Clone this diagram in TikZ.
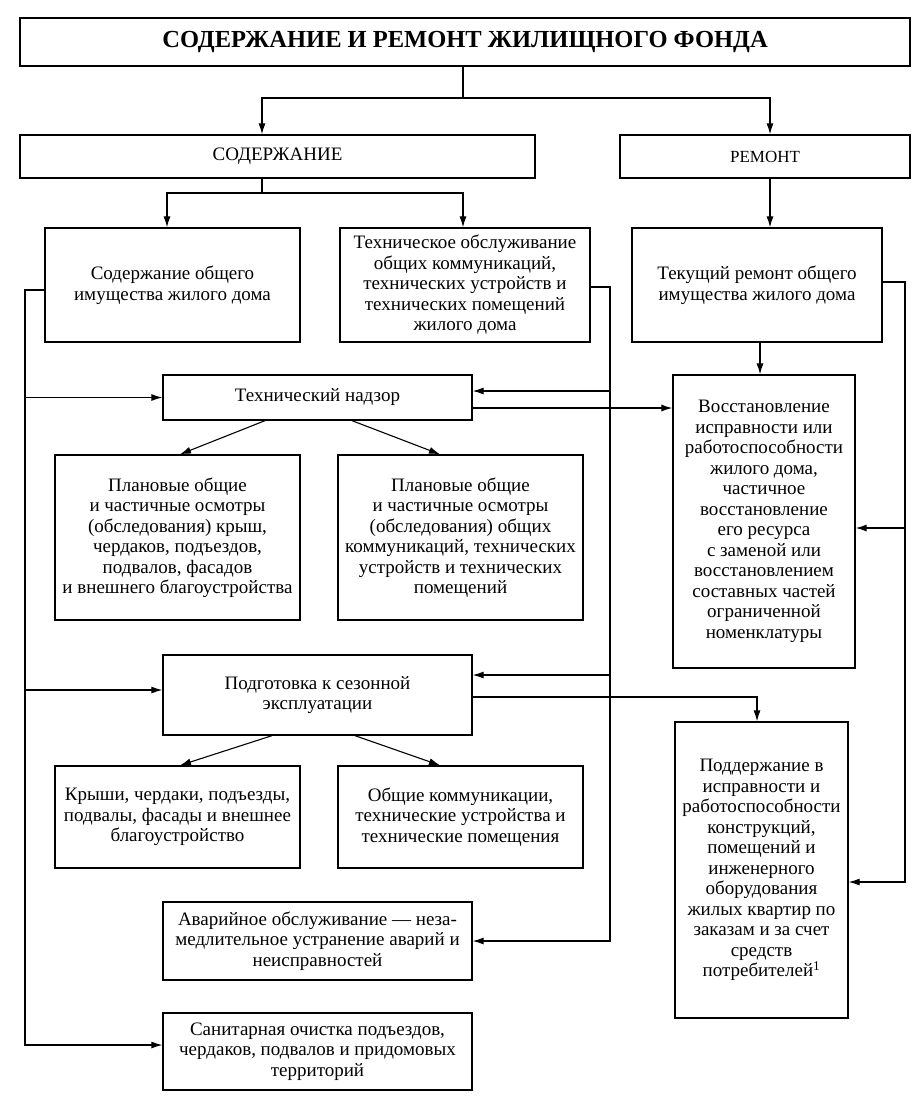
\documentclass[tikz,border=0pt]{standalone}
\usepackage{fontspec}
\setmainfont{Liberation Serif}
\usetikzlibrary{arrows.meta,calc}
\begin{document}
\begin{tikzpicture}[x=1pt,y=-1pt,
  box/.style={draw,line width=1.3pt,align=center,inner sep=0pt,font=\fontsize{19}{20.5}\selectfont},
  sz/.style 2 args={minimum width=#1pt,minimum height=#2pt},
  lnk/.style={line width=1.1pt},
  arr/.style={lnk,-{Latex[length=11pt,width=7pt]}}]
\useasboundingbox (0,0) rectangle (919,1101);

\node[box,sz={890}{48},font=\fontsize{24.5}{26}\selectfont\bfseries] (top) at (465,42) {СОДЕРЖАНИЕ И РЕМОНТ ЖИЛИЩНОГО ФОНДА};
\node[box,sz={515}{43}] (sod) at (277.5,156.5) {СОДЕРЖАНИЕ};
\node[box,sz={290}{43},font=\fontsize{17}{20.5}\selectfont] (rem) at (765,156.5) {РЕМОНТ};

\node[box,sz={255}{114}] (b1) at (172.5,285) {Содержание общего\\имущества жилого дома};
\node[box,sz={250}{114}] (b2) at (465,285) {Техническое обслуживание\\общих коммуникаций,\\технических устройств и\\технических помещений\\жилого дома};
\node[box,sz={250}{114}] (b3) at (757,285) {Текущий ремонт общего\\имущества жилого дома};

\node[box,sz={309}{45}] (tn) at (317.5,397.5) {Технический надзор};
\node[box,sz={245}{165}] (p1) at (177.5,537.5) {Плановые общие\\и частичные осмотры\\(обследования) крыш,\\чердаков, подъездов,\\подвалов, фасадов\\и внешнего благоустройства};
\node[box,sz={245}{165}] (p2) at (460.5,537.5) {Плановые общие\\и частичные осмотры\\(обследования) общих\\коммуникаций, технических\\устройств и технических\\помещений};
\node[box,sz={182}{293}] (vos) at (764,521.5) {Восстановление\\исправности или\\работоспособности\\жилого дома,\\частичное\\восстановление\\его ресурса\\с заменой или\\восстановлением\\составных частей\\ограниченной\\номенклатуры};

\node[box,sz={309}{80}] (pod) at (317.5,695) {Подготовка к сезонной\\эксплуатации};
\node[box,sz={245}{102}] (k1) at (177.5,817) {Крыши, чердаки, подъезды,\\подвалы, фасады и внешнее\\благоустройство};
\node[box,sz={245}{102}] (k2) at (460.5,817) {Общие коммуникации,\\технические устройства и\\технические помещения};
\node[box,sz={173}{296}] (pdd) at (761.5,870) {Поддержание в\\исправности и\\работоспособности\\конструкций,\\помещений и\\инженерного\\оборудования\\жилых квартир по\\заказам и за счет\\средств\\потребителей\textsuperscript{1}};

\node[box,sz={309}{78}] (av) at (317.5,941) {Аварийное обслуживание — неза-\\медлительное устранение аварий и\\неисправностей};
\node[box,sz={309}{77}] (san) at (317.5,1051.5) {Санитарная очистка подъездов,\\чердаков, подвалов и придомовых\\территорий};

% top level
\coordinate (j1) at (463,98);
\draw[lnk] ($(top.south)+(-2,0)$) -- (j1);
\draw[arr] (j1) -| ($(sod.north)+(-15.5,0)$);
\draw[arr] (j1) -| ($(rem.north)+(5,0)$);

% SOD branches
\coordinate (j2) at (262,193);
\draw[lnk] ($(sod.south)+(-15.5,0)$) -- (j2);
\draw[arr] (j2) -| ($(b1.north)+(-5.5,0)$);
\draw[arr] (j2) -| ($(b2.north)+(-2,0)$);

% REM
\draw[arr] ($(rem.south)+(5,0)$) -- ($(b3.north)+(13,0)$);

% left bus
\coordinate (L) at (25,290);
\draw[arr] ($(b1.west)+(0,5)$) -- (L) |- ($(san.west)+(0,-6.5)$);
\draw[arr] (L |- tn.west) -- (tn.west);
\draw[arr] ($(L |- pod.west)+(0,-5)$) -- ($(pod.west)+(0,-5)$);

% middle-right bus
\coordinate (R) at (610,287);
\draw[arr] ($(b2.east)+(0,2)$) -- (R) |- (av.east);
\draw[arr] ($(R |- tn.east)+(0,-6.5)$) -- ($(tn.east)+(0,-6.5)$);
\draw[arr] ($(R |- pod.east)+(0,-20)$) -- ($(pod.east)+(0,-20)$);

% tn -> vos
\draw[arr] ($(tn.east)+(0,10.5)$) -- ($(vos.west)+(0,-113.5)$);

% b3 -> vos
\draw[arr] ($(b3.south)+(3,0)$) -- ($(vos.north)+(-4,0)$);

% far right bus
\coordinate (RR) at (905,282);
\draw[arr] ($(b3.east)+(0,-3)$) -- (RR) |- ($(pdd.east)+(0,12)$);
\draw[arr] ($(RR |- vos.east)+(0,6.5)$) -- ($(vos.east)+(0,6.5)$);

% pod -> pdd
\draw[arr] ($(pod.east)+(0,2)$) -| ($(pdd.north)+(-4.5,0)$);

% diagonals
\draw[arr] ($(tn.south)+(-52.5,0)$) -- ($(p1.north)+(2.5,0)$);
\draw[arr] ($(tn.south)+(34.5,0)$) -- ($(p2.north)+(-20.5,0)$);
\draw[arr] ($(pod.south)+(-45.5,0)$) -- ($(k1.north)+(2.5,0)$);
\draw[arr] ($(pod.south)+(37.5,0)$) -- ($(k2.north)+(-20.5,0)$);
\end{tikzpicture}
\end{document}
